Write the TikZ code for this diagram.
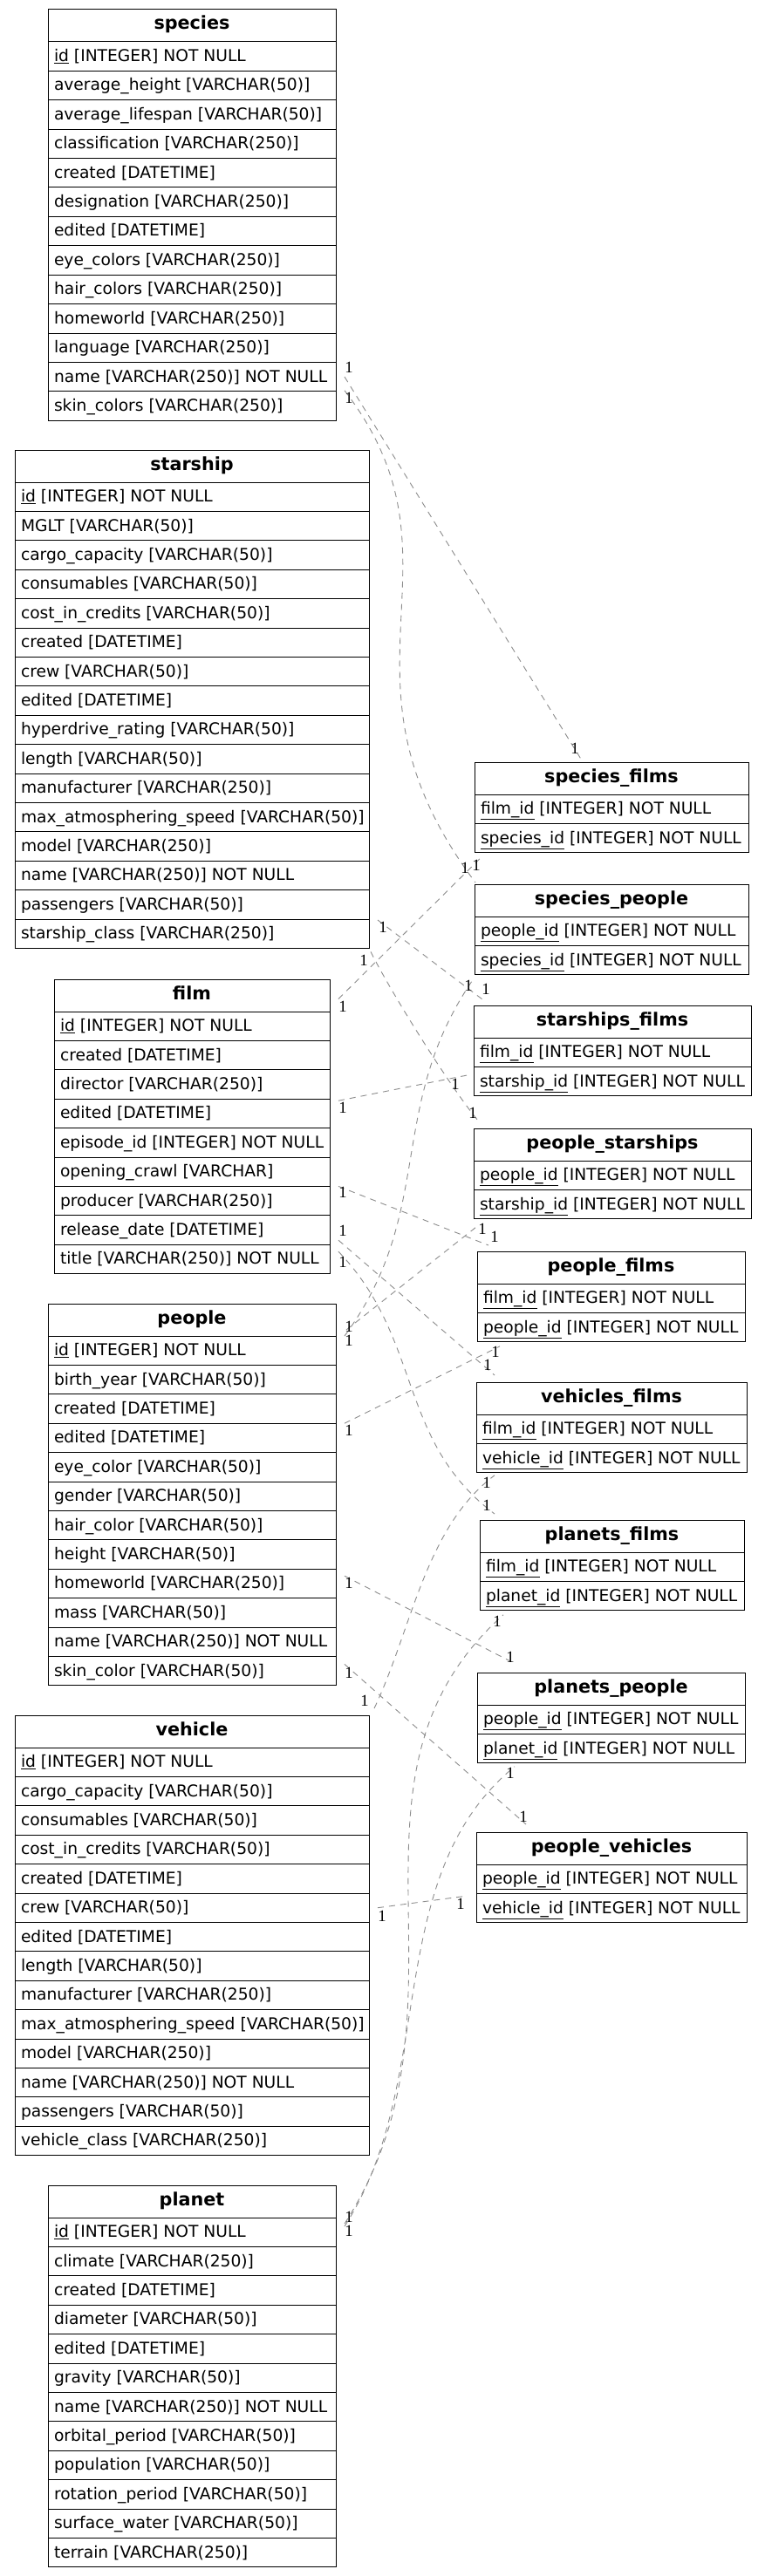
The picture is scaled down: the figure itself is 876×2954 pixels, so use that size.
\documentclass[tikz,border=0pt]{standalone}
\usepackage{fontspec}
\setmainfont{DejaVu Sans}
\newfontfamily\lblfont{Liberation Serif}
\usetikzlibrary{positioning}
\definecolor{relgray}{HTML}{8C8C8C}

\newcommand{\ertable}[5]{%
  \node[tblhead, minimum width=#3pt] (#1-0) at #2 {#4};
  \pgfmathsetmacro{\colw}{#3-14}
  \foreach \col [count=\i] in {#5} {
    \pgfmathtruncatemacro{\j}{\i-1}
    \node[tblrow, minimum width=#3pt, below=0pt of #1-\j] (#1-\i) {\makebox[\colw pt][l]{\col}};
  }%
}

\begin{document}
\begin{tikzpicture}[%
        x=1pt, y=-1pt,
        tblhead/.style={draw, line width=1pt, anchor=north west, inner sep=0pt, outer sep=0pt,
          minimum height=37pt, text height=15pt, text depth=6pt,
          font=\fontsize{20.7}{24}\selectfont\bfseries},
        tblrow/.style={draw, line width=1pt, inner xsep=7pt, inner ysep=0pt, outer sep=0pt,
          minimum height=33.4pt, text height=16pt, text depth=4.2pt,
          font=\fontsize{18.67}{22}\selectfont},
        rel/.style={draw=relgray, dash pattern=on 7pt off 6pt, line width=0.9pt},
        lbl/.style={font=\lblfont\fontsize{18.67}{20}\selectfont, inner sep=0pt}
        ]
        \useasboundingbox (0,0) rectangle (876,2954);
        \fill[white] (0,0) rectangle (876,2954);

        \ertable{sp}{(55,11)}{330}{species}{\underline{id} [INTEGER] NOT NULL, average\_height [VARCHAR(50)], average\_lifespan [VARCHAR(50)], classification [VARCHAR(250)], created [DATETIME], designation [VARCHAR(250)], edited [DATETIME], eye\_colors [VARCHAR(250)], hair\_colors [VARCHAR(250)], homeworld [VARCHAR(250)], language [VARCHAR(250)], name [VARCHAR(250)] NOT NULL, skin\_colors [VARCHAR(250)]}
        \ertable{ss}{(17,516)}{406}{starship}{\underline{id} [INTEGER] NOT NULL, MGLT [VARCHAR(50)], cargo\_capacity [VARCHAR(50)], consumables [VARCHAR(50)], cost\_in\_credits [VARCHAR(50)], created [DATETIME], crew [VARCHAR(50)], edited [DATETIME], hyperdrive\_rating [VARCHAR(50)], length [VARCHAR(50)], manufacturer [VARCHAR(250)], max\_atmosphering\_speed [VARCHAR(50)], model [VARCHAR(250)], name [VARCHAR(250)] NOT NULL, passengers [VARCHAR(50)], starship\_class [VARCHAR(250)]}
        \ertable{fm}{(62,1123)}{316}{film}{\underline{id} [INTEGER] NOT NULL, created [DATETIME], director [VARCHAR(250)], edited [DATETIME], episode\_id [INTEGER] NOT NULL, opening\_crawl [VARCHAR], producer [VARCHAR(250)], release\_date [DATETIME], title [VARCHAR(250)] NOT NULL}
        \ertable{pp}{(55,1495)}{330}{people}{\underline{id} [INTEGER] NOT NULL, birth\_year [VARCHAR(50)], created [DATETIME], edited [DATETIME], eye\_color [VARCHAR(50)], gender [VARCHAR(50)], hair\_color [VARCHAR(50)], height [VARCHAR(50)], homeworld [VARCHAR(250)], mass [VARCHAR(50)], name [VARCHAR(250)] NOT NULL, skin\_color [VARCHAR(50)]}
        \ertable{vh}{(17,1967)}{406}{vehicle}{\underline{id} [INTEGER] NOT NULL, cargo\_capacity [VARCHAR(50)], consumables [VARCHAR(50)], cost\_in\_credits [VARCHAR(50)], created [DATETIME], crew [VARCHAR(50)], edited [DATETIME], length [VARCHAR(50)], manufacturer [VARCHAR(250)], max\_atmosphering\_speed [VARCHAR(50)], model [VARCHAR(250)], name [VARCHAR(250)] NOT NULL, passengers [VARCHAR(50)], vehicle\_class [VARCHAR(250)]}
        \ertable{pl}{(55,2506)}{330}{planet}{\underline{id} [INTEGER] NOT NULL, climate [VARCHAR(250)], created [DATETIME], diameter [VARCHAR(50)], edited [DATETIME], gravity [VARCHAR(50)], name [VARCHAR(250)] NOT NULL, orbital\_period [VARCHAR(50)], population [VARCHAR(50)], rotation\_period [VARCHAR(50)], surface\_water [VARCHAR(50)], terrain [VARCHAR(250)]}

        \ertable{sf}{(544,874)}{314}{species\_films}{\underline{film\_id} [INTEGER] NOT NULL, \underline{species\_id} [INTEGER] NOT NULL}
        \ertable{spp}{(544,1014)}{314}{species\_people}{\underline{people\_id} [INTEGER] NOT NULL, \underline{species\_id} [INTEGER] NOT NULL}
        \ertable{ssf}{(543,1153)}{318}{starships\_films}{\underline{film\_id} [INTEGER] NOT NULL, \underline{starship\_id} [INTEGER] NOT NULL}
        \ertable{ps}{(543,1294)}{318}{people\_starships}{\underline{people\_id} [INTEGER] NOT NULL, \underline{starship\_id} [INTEGER] NOT NULL}
        \ertable{pf}{(547,1435)}{307}{people\_films}{\underline{film\_id} [INTEGER] NOT NULL, \underline{people\_id} [INTEGER] NOT NULL}
        \ertable{vf}{(546,1585)}{310}{vehicles\_films}{\underline{film\_id} [INTEGER] NOT NULL, \underline{vehicle\_id} [INTEGER] NOT NULL}
        \ertable{plf}{(550,1743)}{303}{planets\_films}{\underline{film\_id} [INTEGER] NOT NULL, \underline{planet\_id} [INTEGER] NOT NULL}
        \ertable{ppl}{(547,1918)}{307}{planets\_people}{\underline{people\_id} [INTEGER] NOT NULL, \underline{planet\_id} [INTEGER] NOT NULL}
        \ertable{pv}{(546,2101)}{310}{people\_vehicles}{\underline{people\_id} [INTEGER] NOT NULL, \underline{vehicle\_id} [INTEGER] NOT NULL}

        \draw[rel] ([shift={(10,0)}]sp-12.east) -- ([shift={(123,-2)}]sf-0.north west)
            node[lbl,pos=0,xshift=5,yshift=11] {1} node[lbl,pos=1,xshift=-8,yshift=14] {1};
        \draw[rel] ([shift={(10,-1)}]sp-12.south east) .. controls +(152,198) and +(-180,-240) .. ([shift={(1,-2)}]spp-0.north west)
            node[lbl,pos=0,xshift=5,yshift=-9] {1} node[lbl,pos=1,xshift=-12,yshift=17] {1};
        \draw[rel] ([shift={(10,4)}]fm-0.east) -- ([shift={(8,5)}]sf-2.south west)
            node[lbl,pos=0,xshift=5,yshift=-9] {1} node[lbl,pos=1,xshift=-6,yshift=-10] {1};
        \draw[rel] ([shift={(10,1)}]ss-16.north east) -- ([shift={(10,-7)}]ssf-0.north west)
            node[lbl,pos=0,xshift=6,yshift=-8] {1} node[lbl,pos=1,xshift=4,yshift=12] {1};
        \draw[rel] ([shift={(2,4)}]ss-16.south east) .. controls +(25,50) and +(-30,-36) .. ([shift={(5,-9)}]ps-0.north west)
            node[lbl,pos=0,xshift=-8,yshift=-10] {1} node[lbl,pos=1,xshift=-6,yshift=9] {1};
        \draw[rel] ([shift={(10,2)}]fm-4.north east) -- ([shift={(-8,-7)}]ssf-2.west)
            node[lbl,pos=0,xshift=5,yshift=-8] {1} node[lbl,pos=1,xshift=-13,yshift=-10] {1};
        \draw[rel] ([shift={(10,0)}]pp-0.south east) .. controls +(106,-144) and +(-103,148) .. ([shift={(0,3)}]spp-2.south west)
            node[lbl,pos=0,xshift=5,yshift=-5] {1} node[lbl,pos=1,xshift=-7,yshift=-10] {1};
        \draw[rel] ([shift={(10,0)}]fm-7.north east) -- ([shift={(13,-7)}]pf-0.north west)
            node[lbl,pos=0,xshift=5,yshift=-7] {1} node[lbl,pos=1,xshift=7,yshift=10] {1};
        \draw[rel] ([shift={(10,-5)}]fm-8.south east) -- ([shift={(21,-8)}]vf-0.north west)
            node[lbl,pos=0,xshift=5,yshift=11] {1} node[lbl,pos=1,xshift=-8,yshift=12] {1};
        \draw[rel] ([shift={(10,8)}]fm-9.north east) .. controls +(97,101) and +(-112,-84) .. ([shift={(17,-7)}]plf-0.north west)
            node[lbl,pos=0,xshift=5,yshift=-12] {1} node[lbl,pos=1,xshift=-9,yshift=10] {1};
        \draw[rel] ([shift={(12,-7)}]pp-0.south east) -- ([shift={(2,10)}]ps-2.south west)
            node[lbl,pos=0,xshift=3,yshift=4] {1} node[lbl,pos=1,xshift=8,yshift=-2] {1};
        \draw[rel] ([shift={(10,0)}]pp-3.south east) -- ([shift={(26,5)}]pf-2.south west)
            node[lbl,pos=0,xshift=5,yshift=-8] {1} node[lbl,pos=1,xshift=-5,yshift=-7] {1};
        \draw[rel] ([shift={(6,-8)}]vh-0.north east) .. controls +(43,-90) and +(-80,60) .. ([shift={(21,3)}]vf-2.south west)
            node[lbl,pos=0,xshift=-11,yshift=9] {1} node[lbl,pos=1,xshift=-9,yshift=-9] {1};
        \draw[rel] ([shift={(10,8)}]pp-9.north east) -- ([shift={(40,-12)}]ppl-0.north west)
            node[lbl,pos=0,xshift=5,yshift=-8] {1} node[lbl,pos=1,xshift=-2,yshift=6] {1};
        \draw[rel] ([shift={(10,7)}]pl-0.south east) .. controls +(162,-252) and +(-210,188) .. ([shift={(27,5)}]plf-2.south west)
            node[lbl,pos=0,xshift=5,yshift=8] {1} node[lbl,pos=1,xshift=-7,yshift=-8] {1};
        \draw[rel] ([shift={(10,10)}]pl-0.south east) .. controls +(108,-168) and +(-154,126) .. ([shift={(43,4)}]ppl-2.south west)
            node[lbl,pos=0,xshift=5,yshift=-5] {1} node[lbl,pos=1,xshift=-5,yshift=-8] {1};
        \draw[rel] ([shift={(10,9)}]pp-12.north east) -- ([shift={(57,-9)}]pv-0.north west)
            node[lbl,pos=0,xshift=5,yshift=-10] {1} node[lbl,pos=1,xshift=-3,yshift=9] {1};
        \draw[rel] ([shift={(10,0)}]vh-6.east) -- ([shift={(-11,-14)}]pv-2.west)
            node[lbl,pos=0,xshift=5,yshift=-10] {1} node[lbl,pos=1,xshift=-7,yshift=-9] {1};

    \end{tikzpicture}
\end{document}
